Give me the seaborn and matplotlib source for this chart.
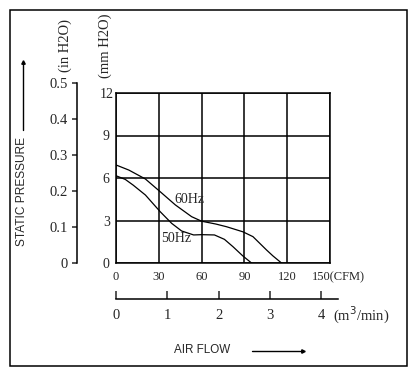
import numpy as np
import pandas as pd
import matplotlib.pyplot as plt
import seaborn as sns
from matplotlib.patches import Rectangle

# Fan curve (airflow in CFM, static pressure in mmH2O)
cfm_60hz = [0, 9, 20.6, 31, 41.6, 53, 60, 70, 77.5, 89, 96, 105.5, 110, 116]
mm_60hz = [6.92, 6.56, 5.93, 5.03, 4.1, 3.27, 2.95, 2.75, 2.56, 2.2, 1.86, 0.92, 0.5, 0.0]
cfm_50hz = [0, 6.5, 12, 20.6, 31, 39, 46, 54.4, 60, 69, 76, 82, 89, 95]
mm_50hz = [6.16, 5.9, 5.5, 4.8, 3.62, 2.8, 2.26, 1.98, 2.0, 1.98, 1.67, 1.15, 0.49, 0.0]

cfm_ticks = [0, 30, 60, 90, 120, 150]
mm_ticks = [0, 3, 6, 9, 12]
in_ticks = [0, 0.1, 0.2, 0.3, 0.4, 0.5]
in_labels = ['0', '0.1', '0.2', '0.3', '0.4', '0.5']
m3_ticks = [0, 1, 2, 3, 4]
CFM_PER_M3 = 36.0
MM_PER_IN = 25.4

W, H = 419, 381
SERIF = ['Liberation Serif', 'DejaVu Serif']
SANS = ['Liberation Sans', 'DejaVu Sans']

sns.set_style('white')
plt.rcParams['font.family'] = SERIF


def fx(px):
    return px / W


def fy(px):
    return 1 - px / H


fig = plt.figure(figsize=(W / 100, H / 100), dpi=100)

# outer frame
fig.patches.append(Rectangle((fx(10), fy(366)), fx(407) - fx(10), fy(10) - fy(366),
                             transform=fig.transFigure, fill=False,
                             edgecolor='black', linewidth=1.1))

# main chart
left, right, top, bottom = 116, 330, 93, 263
ax = fig.add_axes([fx(left), fy(bottom), (right - left) / W, (bottom - top) / H])
sns.lineplot(x=cfm_60hz, y=mm_60hz, ax=ax, color='black', linewidth=0.9)
sns.lineplot(x=cfm_50hz, y=mm_50hz, ax=ax, color='black', linewidth=0.9)
ax.set_xlim(cfm_ticks[0], cfm_ticks[-1])
ax.set_ylim(mm_ticks[0], mm_ticks[-1])
ax.set_xticks(cfm_ticks)
ax.set_yticks(mm_ticks)
# last x label is drawn separately together with the unit
ax.set_xticklabels([str(t) for t in cfm_ticks[:-1]] + [''], fontsize=9)
ax.set_yticklabels([str(t) for t in mm_ticks], fontsize=10, ha='center')
ax.tick_params(axis='x', length=0, pad=6)
ax.tick_params(axis='y', length=0, pad=7)
ax.grid(True, color='black', linewidth=1.1)
for s in ax.spines.values():
    s.set_color('black')
    s.set_linewidth(1.1)
ax.annotate(f'{cfm_ticks[-1]}(CFM)', xy=(cfm_ticks[-1], 0), xytext=(-13, -6),
            textcoords='offset points', ha='left', va='top', fontsize=9)
ax.text(51.5, 4.45, '60Hz', ha='center', va='center', fontsize=10)
ax.text(42.0, 1.73, '50Hz', ha='center', va='center', fontsize=10)

# inch H2O scale on the left
in_height = (bottom - top) * (in_ticks[-1] * MM_PER_IN / mm_ticks[-1]) / H
ax_in = fig.add_axes([fx(77), fy(bottom), 0.0001, in_height])
ax_in.set_ylim(in_ticks[0], in_ticks[-1])
ax_in.set_yticks(in_ticks)
ax_in.set_yticklabels(in_labels, fontsize=10.5)
ax_in.set_xticks([])
ax_in.tick_params(axis='y', direction='out', length=3.8, width=1.1, pad=3, left=True)
for name, s in ax_in.spines.items():
    s.set_visible(name == 'left')
    s.set_linewidth(1.1)
    s.set_color('black')

# m3/min scale below
ax_m = fig.add_axes([fx(left), fy(299), (338 - left) / W, 0.0001])
ax_m.set_xlim(0, (338 - left) / (right - left) * cfm_ticks[-1])
ax_m.set_xticks([m * CFM_PER_M3 for m in m3_ticks])
ax_m.set_xticklabels([str(m) for m in m3_ticks], fontsize=10.5)
ax_m.set_yticks([])
ax_m.tick_params(axis='x', direction='in', length=5.5, width=1.1, pad=7, bottom=True)
for name, s in ax_m.spines.items():
    s.set_visible(name == 'bottom')
    s.set_linewidth(1.1)
    s.set_color('black')
fig.text(fx(333), fy(315), '(m$^3$/min)', ha='left', va='center', fontsize=10.5)

# axis titles and arrows
fig.text(fx(65), fy(46), '(in H2O)', rotation=90, ha='center', va='center', fontsize=10.5)
fig.text(fx(105), fy(46), '(mm H2O)', rotation=90, ha='center', va='center', fontsize=10.5)
fig.text(fx(22), fy(192), 'STATIC PRESSURE', rotation=90, ha='center', va='center',
         fontsize=8.6, family=SANS)
fig.text(fx(202), fy(350), 'AIR FLOW', ha='center', va='center', fontsize=8.4, family=SANS)
fig.add_artist(plt.Line2D([fx(23), fx(23)], [fy(130), fy(62)], color='black', linewidth=1.0))
fig.add_artist(plt.Line2D([fx(23)], [fy(62)], marker='^', markersize=2.5, color='black'))
fig.add_artist(plt.Line2D([fx(252), fx(303)], [fy(351), fy(351)], color='black', linewidth=1.0))
fig.add_artist(plt.Line2D([fx(303)], [fy(351)], marker='>', markersize=2.5, color='black'))

fig.savefig('out.png', dpi=100)
